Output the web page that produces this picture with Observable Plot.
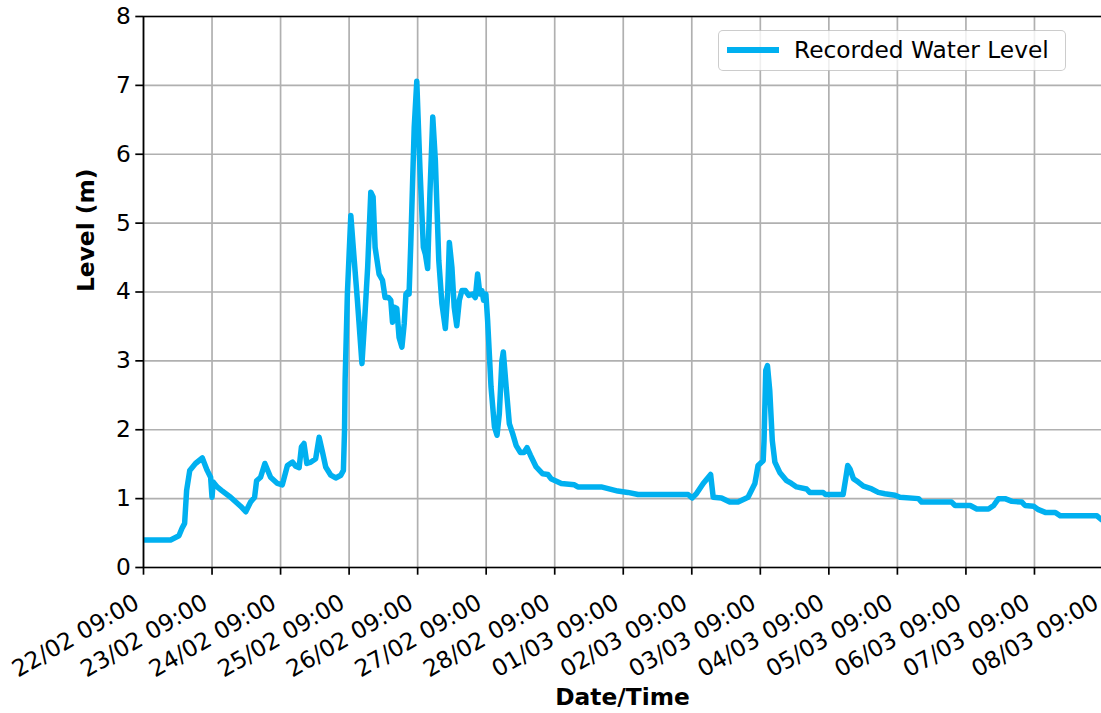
<!DOCTYPE html>
<html>
<head>
<meta charset="utf-8">
<script src="https://cdn.jsdelivr.net/npm/d3@7"></script>
<script src="https://cdn.jsdelivr.net/npm/@observablehq/plot@0.6"></script>
<style>
  body { margin: 0; background: #fff; font-family: "DejaVu Sans", sans-serif; }
  #wrap { position: relative; width: 1101px; height: 713px; overflow: hidden; }
  #legend {
    position: absolute; left: 718px; top: 30px; width: 346px; height: 39px;
    border: 1px solid rgba(0,0,0,0.2); border-radius: 5px;
    background: rgba(255,255,255,0.8); z-index: 2;
  }
  #legend .swatch { position: absolute; left: 8px; top: 16px; width: 52px; height: 5.5px; background: #00b0f0; }
  #legend .lab { position: absolute; left: 75px; top: 4px; font-size: 23.3px; color: #000; line-height: 30px; white-space: nowrap; }
</style>
</head>
<body>
<div id="wrap">
  <div id="legend"><div class="swatch"></div><div class="lab">Recorded Water Level</div></div>
</div>
<script>
// ---- data ----
const startTime = "2022-02-22T09:00:00Z";
const endTime = "2022-03-08T09:00:00Z";
// hours elapsed since 22/02 09:00
const hoursElapsed = [0,9.5,12.4,13.6,14.4,15.1,16.2,18.2,20.6,22.3,23.5,24.0,24.4,25.8,27.3,30.5,34.0,35.8,37.5,38.9,39.6,41.0,42.5,44.5,46.9,48.6,50.4,52.2,53.3,54.5,55.3,56.2,57.2,58.6,60.3,61.5,62.7,63.8,65.6,67.3,69.1,70.0,70.4,70.6,71.4,72.6,73.8,74.9,76.5,77.3,78.5,79.6,80.4,81.1,82.5,83.7,84.6,85.8,86.6,87.2,87.8,88.7,89.5,90.5,91.3,91.9,92.5,93.0,93.6,94.8,95.7,96.8,98.0,98.7,99.5,100.3,101.3,102.2,103.4,104.5,105.7,106.5,107.1,108.0,108.8,109.7,110.6,111.5,112.7,113.9,115.3,116.2,117.0,117.8,118.5,119.1,119.9,120.5,121.7,122.9,123.8,124.6,125.5,126.0,127.0,128.1,129.3,130.5,132.0,133.2,134.3,135.5,137.5,139.8,141.6,142.7,146.3,150.9,152.1,160.3,166.1,169.6,173.2,190.7,192.1,193.6,196.0,198.6,199.5,202.4,205.3,208.2,211.7,214.1,215.2,217.0,217.3,217.9,218.5,219.3,220.2,221.1,222.8,225.2,226.9,228.7,232.2,233.3,238.0,238.8,245.0,245.9,246.6,247.4,248.6,250.3,252.1,255.0,257.3,259.6,263.2,264.9,271.4,272.5,283.0,284.2,289.5,291.8,295.9,297.7,299.4,301.7,304.1,307.6,308.7,311.7,313.4,315.8,319.3,321.0,333.9,335.6,336];
const levels = [0.40,0.40,0.46,0.58,0.64,1.12,1.41,1.51,1.59,1.41,1.31,1.02,1.24,1.17,1.12,1.02,0.89,0.81,0.95,1.02,1.26,1.31,1.51,1.31,1.22,1.20,1.48,1.53,1.47,1.45,1.75,1.80,1.51,1.53,1.58,1.89,1.67,1.46,1.34,1.30,1.34,1.41,1.99,2.71,3.98,5.11,4.46,3.88,2.96,3.49,4.36,5.45,5.38,4.65,4.26,4.17,3.92,3.92,3.88,3.56,3.78,3.76,3.34,3.20,3.54,3.97,4.00,3.97,4.70,6.39,7.06,5.80,4.65,4.55,4.34,5.43,6.54,5.91,4.46,3.83,3.47,3.97,4.72,4.36,3.78,3.51,3.88,4.02,4.02,3.95,3.97,3.92,4.26,3.97,4.02,3.88,3.97,3.59,2.62,2.04,1.92,2.23,3.00,3.13,2.62,2.09,1.94,1.77,1.67,1.67,1.74,1.63,1.46,1.36,1.35,1.29,1.22,1.20,1.17,1.17,1.11,1.09,1.06,1.06,1.01,1.07,1.22,1.35,1.02,1.01,0.95,0.95,1.02,1.22,1.48,1.55,1.84,2.86,2.93,2.57,1.84,1.53,1.38,1.26,1.22,1.17,1.14,1.09,1.09,1.06,1.06,1.29,1.48,1.43,1.29,1.24,1.18,1.14,1.09,1.07,1.05,1.02,1.00,0.95,0.95,0.90,0.90,0.85,0.85,0.90,1.00,1.00,0.96,0.95,0.90,0.89,0.84,0.80,0.80,0.75,0.75,0.69,0.69];
const xTickDates = ["2022-02-22T09:00Z","2022-02-23T09:00Z","2022-02-24T09:00Z","2022-02-25T09:00Z","2022-02-26T09:00Z","2022-02-27T09:00Z","2022-02-28T09:00Z","2022-03-01T09:00Z","2022-03-02T09:00Z","2022-03-03T09:00Z","2022-03-04T09:00Z","2022-03-05T09:00Z","2022-03-06T09:00Z","2022-03-07T09:00Z","2022-03-08T09:00Z"];
const yTicks = [0,1,2,3,4,5,6,7,8];
const yLabel = "Level (m)";
const xLabel = "Date/Time";

// ---- build ----
const t0 = new Date(startTime).getTime();
const rows = hoursElapsed.map((h, i) => ({time: new Date(t0 + h * 3600e3), level: levels[i]}));
const xTicks = xTickDates.map(s => new Date(s));
const fmt = d3.utcFormat("%d/%m %H:%M");
const lineColor = "#00b0f0";
const FS = 23.3;
const gridStyle = {stroke: "#b0b0b0", strokeOpacity: 1, strokeWidth: 1.7};

const chart = Plot.plot({
  width: 1101, height: 713,
  marginTop: 16, marginBottom: 146, marginLeft: 143, marginRight: 0,
  style: {fontFamily: "DejaVu Sans", fontSize: FS + "px", color: "#000", background: "#fff", overflow: "visible"},
  x: {type: "utc", domain: [new Date(startTime), new Date(endTime)], range: [143, 1102.5]},
  y: {domain: [0, 8]},
  marks: [
    Plot.gridX(xTicks, gridStyle),
    Plot.gridY(yTicks, gridStyle),
    Plot.lineY(rows, {x: "time", y: "level", stroke: lineColor, strokeWidth: 5.5, strokeLinejoin: "round", strokeLinecap: "butt"}),
    Plot.ruleY([0], {stroke: "#000", strokeWidth: 1.7}),
    Plot.ruleY([8], {stroke: "#000", strokeWidth: 1.7}),
    Plot.ruleX([new Date(startTime)], {stroke: "#000", strokeWidth: 1.7}),
    Plot.axisY(yTicks, {tickSize: 7.7, tickPadding: 5, tickFormat: d3.format("d"), strokeWidth: 1.7, stroke: "#000", label: null, fontSize: FS}),
    Plot.axisX(xTicks, {tickSize: 7.7, tickFormat: () => "", strokeWidth: 1.7, stroke: "#000", label: null}),
    Plot.axisX(xTicks, {tickSize: 0, tickPadding: 33, tickRotate: -30, dx: -6.5, tickFormat: fmt, label: null, fontSize: FS}),
    Plot.text([yLabel], {text: d => d, frameAnchor: "left", dx: -57, rotate: -90, fontWeight: "bold", fontSize: FS}),
    Plot.text([xLabel], {text: d => d, frameAnchor: "bottom", dy: 137, fontWeight: "bold", fontSize: FS})
  ]
});
document.getElementById("wrap").appendChild(chart);
</script>
</body>
</html>
